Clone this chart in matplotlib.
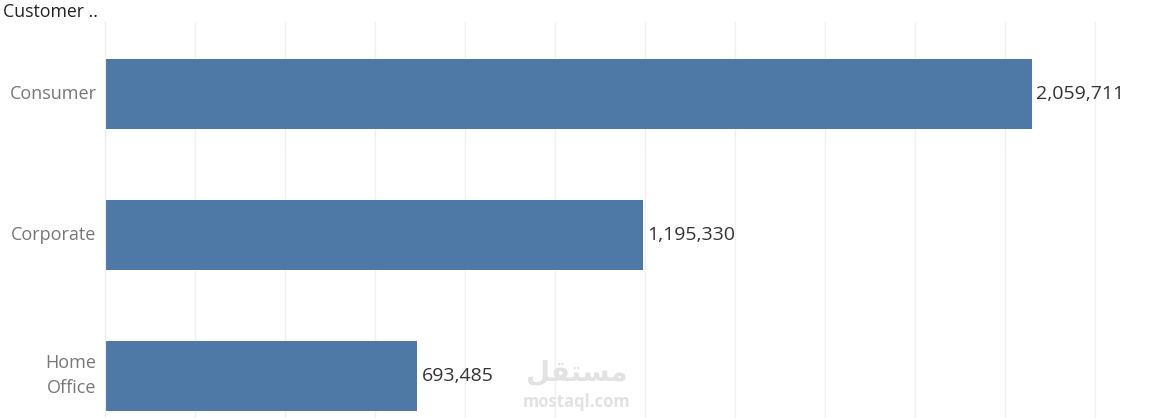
import matplotlib
matplotlib.use("Agg")
import matplotlib.pyplot as plt

segments = ["Consumer", "Corporate", "Home\nOffice"]
sales = [2059711, 1195330, 693485]

BLUE = "#4e79a7"
plt.rcParams["font.family"] = ["Open Sans", "DejaVu Sans"]

fig = plt.figure(figsize=(11.56, 4.18), dpi=100)
ax = fig.add_axes([105 / 1156, 0, 1 - 105 / 1156, 1 - 22 / 418])

y = list(range(len(segments)))
ax.barh(y, sales, height=0.5, color=BLUE, zorder=2)
ax.set_xlim(0, 2335555)
ax.set_ylim(2.298, -0.511)
ax.set_xticks(range(0, 2335555, 200000))
ax.xaxis.grid(True, color="#f0f0f0", linewidth=1, zorder=0)
ax.tick_params(axis="x", length=0, labelbottom=False)
ax.tick_params(axis="y", length=0, pad=6)
ax.set_yticks(y)
ax.set_yticklabels(segments, color="#777777", fontsize=13, linespacing=1.5)
for lbl in ax.get_yticklabels():
    lbl.set_va("center")
for s in ["top", "right", "bottom"]:
    ax.spines[s].set_visible(False)
ax.spines["left"].set_color("#ececec")

for yi, v in zip(y, sales):
    ax.text(v + 10000, yi, f"{v:,}", va="center", ha="left", fontsize=14, color="#333333")

fig.text(3 / 1156, 1 - 12 / 418, "Customer ..", ha="left", va="center",
         fontsize=12.8, color="#222222")

# watermark (Arabic in pre-shaped presentation forms, visual order)
ax.text((577 - 105) / 1051, (418 - 373) / 396, "\uFEDE\uFED8\uFE98\uFEB4\uFEE3",
        transform=ax.transAxes, ha="center", va="center", fontsize=20,
        color="#e2e2e2", weight="bold", family="DejaVu Sans")
ax.text((577 - 105) / 1051, (418 - 402) / 396, "mostaql.com", transform=ax.transAxes,
        ha="center", va="center", fontsize=12, color="#e2e2e2", weight="bold")

fig.savefig("out.png", dpi=100)
